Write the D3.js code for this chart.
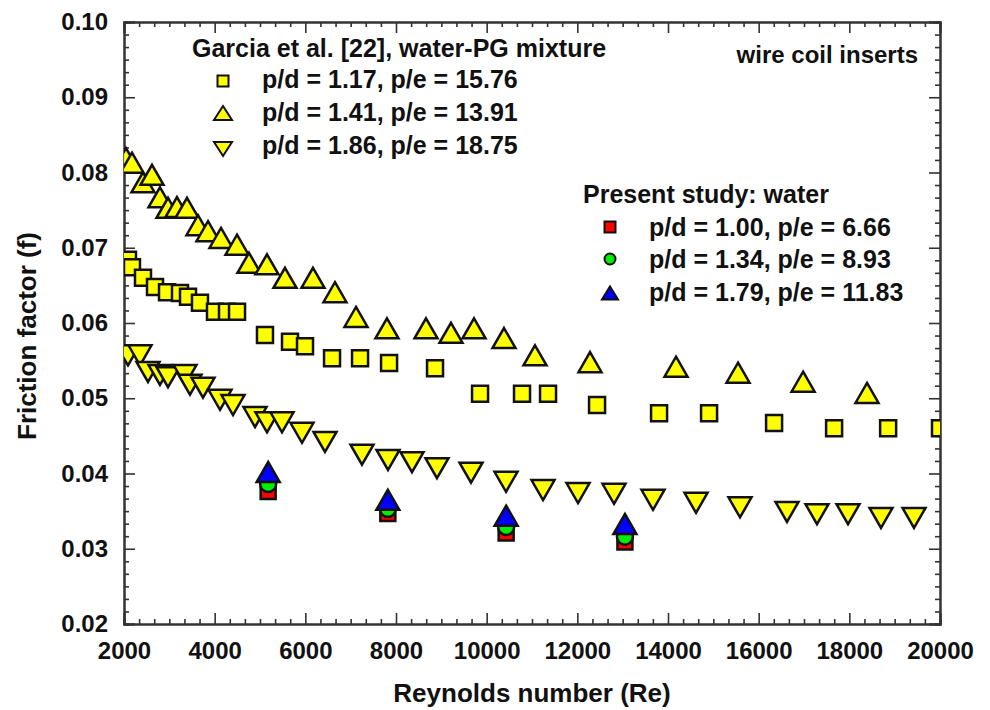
<!DOCTYPE html>
<html lang="en">
<head>
<meta charset="utf-8">
<script src="https://cdn.jsdelivr.net/npm/d3@7"></script>
<title>Friction factor vs Reynolds number</title>
<style>
  body { margin: 0; background: #fff; }
  text { font-family: "Liberation Sans", Arial, sans-serif; font-weight: bold; fill: #111; }
  .domain { stroke: #333; stroke-width: 2; }
  .tick line { stroke: #333; stroke-width: 1.6; }
</style>
</head>
<body>
<div id="chart"></div>
<script>
// Garcia et al. [22], water-PG mixture
const garcia117Re = [2088, 2176, 2419, 2684, 2949, 3235, 3412, 3676, 4007, 4272, 4493, 5110, 5662, 5993, 6589, 7207, 7847, 8861, 9854, 10780, 11354, 12435, 13803, 14906, 16340, 17664, 18856, 20000];
const garcia117F  = [0.0684, 0.0674, 0.0660, 0.0648, 0.0641, 0.0640, 0.0635, 0.0627, 0.0615, 0.0615, 0.0615, 0.0584, 0.0575, 0.0569, 0.0553, 0.0553, 0.0547, 0.0540, 0.0506, 0.0506, 0.0506, 0.0491, 0.0480, 0.0480, 0.0467, 0.0460, 0.0460, 0.0460];

const garcia141Re = [2044, 2176, 2419, 2618, 2794, 2971, 3169, 3390, 3632, 3853, 4140, 4493, 4757, 5154, 5551, 6169, 6654, 7118, 7801, 8662, 9213, 9721, 10382, 11066, 12280, 14177, 15545, 16980, 18390];
const garcia141F  = [0.0819, 0.0813, 0.0787, 0.0797, 0.0767, 0.0753, 0.0754, 0.0753, 0.0730, 0.0722, 0.0713, 0.0704, 0.0680, 0.0678, 0.0660, 0.0660, 0.0641, 0.0608, 0.0593, 0.0593, 0.0587, 0.0593, 0.0580, 0.0557, 0.0548, 0.0542, 0.0534, 0.0522, 0.0507];

const garcia186Re = [2088, 2353, 2529, 2794, 2971, 3346, 3456, 3743, 4118, 4404, 4890, 5154, 5485, 5926, 6434, 7250, 7824, 8353, 8904, 9655, 10427, 11243, 12015, 12809, 13669, 14618, 15588, 16625, 17287, 17971, 18699, 19427];
const garcia186F  = [0.0557, 0.0557, 0.0535, 0.0531, 0.0528, 0.0531, 0.0518, 0.0514, 0.0498, 0.0491, 0.0475, 0.0468, 0.0468, 0.0454, 0.0442, 0.0425, 0.0418, 0.0415, 0.0407, 0.0401, 0.0389, 0.0378, 0.0374, 0.0373, 0.0365, 0.0361, 0.0355, 0.0349, 0.0346, 0.0346, 0.0341, 0.0341];

// Present study: water
const presentRe   = [5180, 7820, 10430, 13050];
const present100F = [0.0376, 0.0347, 0.0321, 0.0309];
const present134F = [0.0386, 0.0353, 0.0329, 0.0316];
const present179F = [0.0402, 0.0365, 0.0344, 0.0333];

const xTicks = [2000, 4000, 6000, 8000, 10000, 12000, 14000, 16000, 18000, 20000];
const yTicks = [0.02, 0.03, 0.04, 0.05, 0.06, 0.07, 0.08, 0.09, 0.10];

const garciaLabels  = ["p/d = 1.17, p/e = 15.76", "p/d = 1.41, p/e = 13.91", "p/d = 1.86, p/e = 18.75"];
const presentLabels = ["p/d = 1.00, p/e = 6.66", "p/d = 1.34, p/e = 8.93", "p/d = 1.79, p/e = 11.83"];

const width = 990, height = 710;
const plotL = 124, plotR = 940, plotT = 22, plotB = 624;

const svg = d3.select("#chart").append("svg").attr("width", width).attr("height", height);

const x = d3.scaleLinear().domain([2000, 20000]).range([plotL, plotR]);
const y = d3.scaleLinear().domain([0.02, 0.10]).range([plotB, plotT]);

// marker paths centred on their bounding box
function square(s){ const h = s/2; return "M" + (-h) + "," + (-h) + "H" + h + "V" + h + "H" + (-h) + "Z"; }
function triUp(w, h){ return "M0," + (-h/2) + "L" + (w/2) + "," + (h/2) + "L" + (-w/2) + "," + (h/2) + "Z"; }
function triDown(w, h){ return "M0," + (h/2) + "L" + (w/2) + "," + (-h/2) + "L" + (-w/2) + "," + (-h/2) + "Z"; }
function circle(r){ return "M" + (-r) + ",0A" + r + "," + r + " 0 1,0 " + r + ",0A" + r + "," + r + " 0 1,0 " + (-r) + ",0Z"; }

// minor ticks (6 intervals per major)
const xMinor = d3.range(0, 55).map(function(i){ return 2000 + i*2000/6; }).filter(function(v, i){ return i % 6 != 0; });
const yMinor = d3.range(0, 49).map(function(i){ return 0.02 + i*0.01/6; }).filter(function(v, i){ return i % 6 != 0; });

function addAxis(axis, tx, ty){
  return svg.append("g").attr("transform", "translate(" + tx + "," + ty + ")").call(axis);
}

addAxis(d3.axisBottom(x).tickValues(xMinor).tickSize(-5).tickFormat(""), 0, plotB);
addAxis(d3.axisTop(x).tickValues(xMinor).tickSize(-5).tickFormat(""), 0, plotT);
addAxis(d3.axisLeft(y).tickValues(yMinor).tickSize(-5).tickFormat(""), plotL, 0);
addAxis(d3.axisRight(y).tickValues(yMinor).tickSize(-5).tickFormat(""), plotR, 0);

const xAxis = addAxis(d3.axisBottom(x).tickValues(xTicks).tickSize(-11).tickPadding(18).tickFormat(d3.format("d")), 0, plotB);
addAxis(d3.axisTop(x).tickValues(xTicks).tickSize(-11).tickFormat(""), 0, plotT);
const yAxis = addAxis(d3.axisLeft(y).tickValues(yTicks).tickSize(-11).tickPadding(16).tickFormat(d3.format(".2f")), plotL, 0);
addAxis(d3.axisRight(y).tickValues(yTicks).tickSize(-11).tickFormat(""), plotR, 0);

svg.selectAll(".domain").attr("stroke-width", 2);
xAxis.selectAll("text").style("font-size", "24px").attr("fill", "#111");
yAxis.selectAll("text").style("font-size", "24px").attr("fill", "#111");

svg.append("text").attr("x", (plotL + plotR)/2).attr("y", 702).attr("text-anchor", "middle")
  .style("font-size", "26px").text("Reynolds number (Re)");
svg.append("text").attr("transform", "translate(36,336) rotate(-90)").attr("text-anchor", "middle")
  .style("font-size", "26px").text("Friction factor (f)");

// data markers
svg.append("clipPath").attr("id", "clip").append("rect")
  .attr("x", plotL).attr("y", plotT).attr("width", plotR - plotL).attr("height", plotB - plotT);
const plot = svg.append("g").attr("clip-path", "url(#clip)");

function drawSeries(res, fs, path, fill, sw){
  plot.append("g").selectAll("path")
    .data(res.map(function(r, i){ return {re: r, f: fs[i]}; }))
    .enter()
    .append("path")
    .attr("d", path)
    .attr("transform", function(d){ return "translate(" + x(d.re) + "," + y(d.f) + ")"; })
    .attr("fill", fill)
    .attr("stroke", "#111")
    .attr("stroke-width", sw);
}

drawSeries(garcia117Re, garcia117F, square(16), "#ffff00", 2.5);
drawSeries(garcia141Re, garcia141F, triUp(23, 20), "#ffff00", 2.5);
drawSeries(garcia186Re, garcia186F, triDown(23, 20), "#ffff00", 2.5);
drawSeries(presentRe, present100F, square(15), "#ff0000", 2.5);
drawSeries(presentRe, present134F, circle(8), "#00ee00", 2.5);
drawSeries(presentRe, present179F, triUp(23, 20), "#0000ff", 2.5);

// legends
svg.append("text").attr("x", 192).attr("y", 57).style("font-size", "25px").text("Garcia et al. [22], water-PG mixture");
const gShapes = [square(11), triUp(18, 14), triDown(18, 14)];
garciaLabels.forEach(function(l, i){
  const cy = [81, 113, 149][i];
  svg.append("path").attr("d", gShapes[i]).attr("transform", "translate(223," + cy + ")")
    .attr("fill", "#ffff00").attr("stroke", "#111").attr("stroke-width", 2);
  svg.append("text").attr("x", 262).attr("y", [88, 121, 154][i]).style("font-size", "25px").text(l);
});

svg.append("text").attr("x", 918).attr("y", 63).attr("text-anchor", "end").style("font-size", "24px").text("wire coil inserts");

svg.append("text").attr("x", 583).attr("y", 203).style("font-size", "25px").text("Present study: water");
const pShapes = [square(11), circle(5.5), triUp(16, 13)];
const pFills = ["#ff0000", "#00ee00", "#0000ff"];
presentLabels.forEach(function(l, i){
  const cy = [227, 259, 293][i];
  svg.append("path").attr("d", pShapes[i]).attr("transform", "translate(610," + cy + ")")
    .attr("fill", pFills[i]).attr("stroke", "#111").attr("stroke-width", 2);
  svg.append("text").attr("x", 649).attr("y", [236, 268, 301][i]).style("font-size", "25px").text(l);
});
</script>
</body>
</html>
